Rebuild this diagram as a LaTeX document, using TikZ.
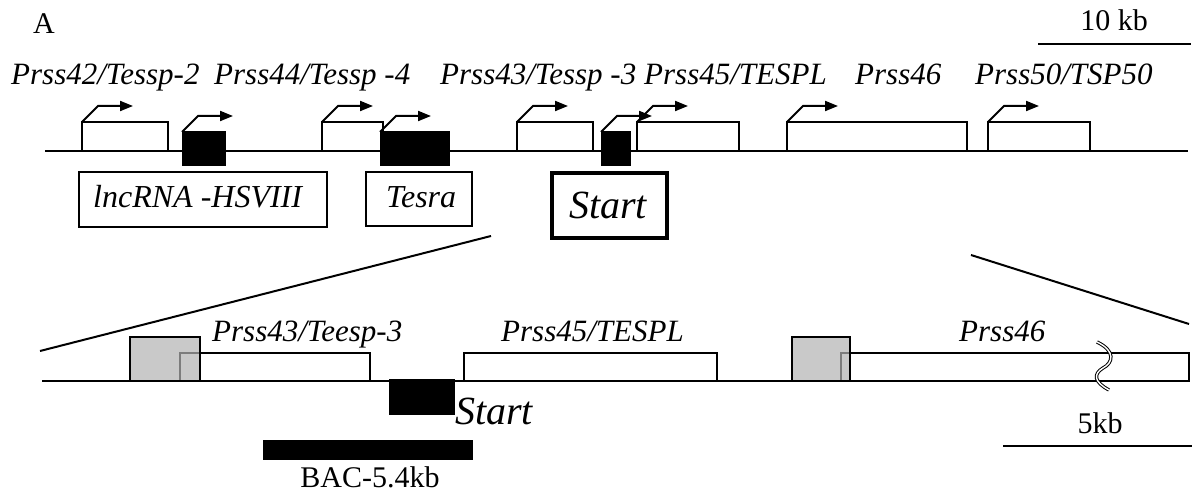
\documentclass[tikz,border=0pt]{standalone}
\usepackage{fontspec}
\setmainfont{Liberation Serif}
\usetikzlibrary{arrows.meta}
\begin{document}
\begin{tikzpicture}[x=1pt,y=-1pt,
  lbl/.style={font=\fontsize{31}{36}\selectfont\itshape, inner sep=0pt, anchor=base west},
  plain/.style={font=\fontsize{30}{36}\selectfont, inner sep=0pt},
  exon/.style={draw, fill=white, line width=2pt, inner sep=0pt, outer sep=0pt, anchor=north west},
  ncrna/.style={draw, fill=black, line width=1pt, inner sep=0pt, outer sep=0pt, anchor=north west},
  promoter/.style={draw, fill={rgb,255:red,178;green,178;blue,178}, fill opacity=0.7, draw opacity=1,
    line width=2pt, inner sep=0pt, outer sep=0pt, anchor=north west},
  namebox/.style={draw, fill=white, line width=2pt, inner sep=0pt, outer sep=0pt, anchor=north west},
  boxtext/.style={font=\fontsize{32}{36}\selectfont\itshape, inner sep=0pt, anchor=base west},
  tss/.style={line width=2pt, -{Triangle[length=13pt,width=10pt]}},
  chrom/.style={line width=2pt},
  bar/.style={line width=2pt},
]
\useasboundingbox (0,0) rectangle (1200,497);

% ---------- overview of the locus ----------
\node[plain, anchor=base] (panel) at (44,34) {A};
\node[plain, anchor=base] (sbtoptxt) at (1114,31) {10 kb};
\coordinate (sbtopa) at (1038,44);
\coordinate (sbtopb) at (1191,44);
\draw[bar] (sbtopa) -- (sbtopb);

\node[lbl] (l42) at (11,85) {Prss42/Tessp-2};
\node[lbl] (l44) at (214,85) {Prss44/Tessp -4};
\node[lbl] (l43) at (440,85) {Prss43/Tessp -3};
\node[lbl] (l45) at (644,85) {Prss45/TESPL};
\node[lbl] (l46) at (855,85) {Prss46};
\node[lbl] (l50) at (975,85) {Prss50/TSP50};

\coordinate (ta) at (45,151);
\coordinate (tb) at (1188,151);
\draw[chrom] (ta) -- (tb);

% protein-coding genes
\node[exon, minimum width=86, minimum height=29] (g42) at (82,122) {};
\node[exon, minimum width=61, minimum height=29] (g44) at (322,122) {};
\node[exon, minimum width=76, minimum height=29] (g43) at (517,122) {};
\node[exon, minimum width=102, minimum height=29] (g45) at (637,122) {};
\node[exon, minimum width=180, minimum height=29] (g46) at (787,122) {};
\node[exon, minimum width=102, minimum height=29] (g50) at (988,122) {};

% non-coding transcripts
\node[ncrna, minimum width=43, minimum height=34] (n1) at (182,132) {};
\node[ncrna, minimum width=69, minimum height=34] (n2) at (380,132) {};
\node[ncrna, minimum width=29, minimum height=34] (n3) at (601,132) {};

% transcription start arrows
\foreach \g in {g42,g44,g43,g45,g46,g50,n1,n2,n3}
  \draw[tss] (\g.north west) -- ++(16,-16) -- ++(35,0);

\node[namebox, minimum width=248, minimum height=55] (lnc) at (79,172) {};
\node[boxtext] (lnctxt) at (93,208) {lncRNA -HSVIII};
\node[namebox, minimum width=106, minimum height=54] (tesra) at (366,172) {};
\node[boxtext] (tesratxt) at (386,208) {Tesra};
\node[namebox, line width=3.5pt, minimum width=115, minimum height=65] (start) at (552,173) {};
\node[boxtext, font=\fontsize{40}{46}\selectfont\itshape] (starttxt) at (569,219) {Start};

% zoom guides
\coordinate (zla) at (491,236);
\coordinate (zlb) at (40,351);
\coordinate (zra) at (971,255);
\coordinate (zrb) at (1189,324);
\draw[bar] (zla) -- (zlb);
\draw[bar] (zra) -- (zrb);

% ---------- enlarged region ----------
\coordinate (ba) at (42,381);
\coordinate (bb) at (1189,381);
\draw[line width=2.6pt] (ba) -- (bb);

\node[exon, minimum width=190, minimum height=28] (b43) at (180,353) {};
\node[exon, minimum width=253, minimum height=28] (b45) at (464,353) {};
\node[exon, minimum width=348, minimum height=28] (b46) at (841,353) {};
\node[promoter, minimum width=70, minimum height=44] (p43) at (130,337) {};
\node[promoter, minimum width=58, minimum height=44] (p46) at (792,337) {};

\node[lbl] (bl43) at (212,341) {Prss43/Teesp-3};
\node[lbl] (bl45) at (501,341) {Prss45/TESPL};
\node[lbl] (bl46) at (959,341) {Prss46};

\node[ncrna, minimum width=65, minimum height=35] (bstart) at (389,379) {};
\node[lbl, font=\fontsize{40}{46}\selectfont\itshape] (bstarttxt) at (455,424) {Start};

\node[ncrna, minimum width=209, minimum height=19] (bac) at (263,440) {};
\node[plain, anchor=base] (bactxt) at (370,487) {BAC-5.4kb};

% break in the Prss46 box
\draw[line width=1pt, double=white, double distance=1.4pt]
  (1097,342) .. controls (1116,351) and (1113,363) .. (1103,368)
  .. controls (1093,374) and (1094,382) .. (1109,390);

\node[plain, anchor=base] (sbbottxt) at (1100,433) {5kb};
\coordinate (sbbota) at (1003,446);
\coordinate (sbbotb) at (1192,446);
\draw[bar] (sbbota) -- (sbbotb);
\end{tikzpicture}
\end{document}
